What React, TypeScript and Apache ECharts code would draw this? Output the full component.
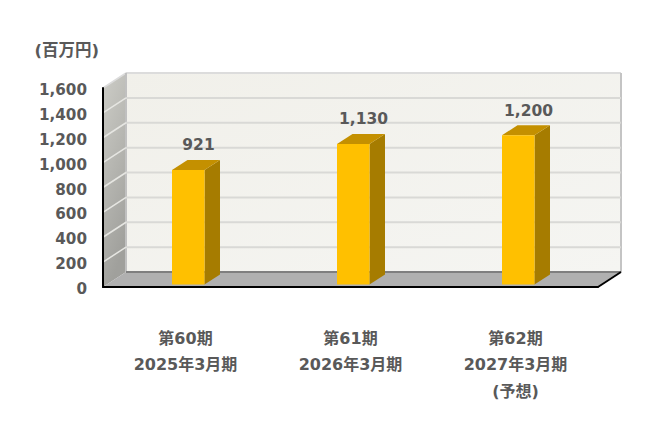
import React, { useEffect, useRef } from "react";
import * as echarts from "echarts";

const categories = ["第60期\n2025年3月期", "第61期\n2026年3月期", "第62期\n2027年3月期\n(予想)"];
const values = [921, 1130, 1200];
const gridValues = [200, 400, 600, 800, 1000, 1200, 1400];
const unitLabel = "(百万円)";

const FONT = '"DejaVu Sans", "Noto Sans CJK JP", sans-serif';
const TEXT = "#595959";
const WALL_DX = 23;
const WALL_DY = -15;
const BAR_W = 32.5;
const BAR_DX = 15.5;
const BAR_DY = -10;
const BAR_SHIFT_X = 2.75;
const BAR_SHIFT_Y = -2.5;

export default function App() {
  const ref = useRef<HTMLDivElement>(null);
  useEffect(() => {
    document.body.style.margin = "0";
    const chart = echarts.init(ref.current!, undefined, { renderer: "svg" });
    chart.setOption({
      animation: false,
      backgroundColor: "#ffffff",
      title: {
        text: unitLabel,
        left: 29.5,
        top: 37.5,
        textStyle: { fontFamily: FONT, fontSize: 16.5, fontWeight: "bold", color: TEXT },
      },
      grid: { left: 103, right: 57, top: 88, bottom: 134 },
      xAxis: {
        type: "category",
        data: categories,
        axisTick: { show: false },
        axisLine: { lineStyle: { color: "#000000", width: 2 } },
        axisLabel: {
          interval: 0,
          margin: 38,
          fontFamily: FONT,
          fontSize: 16,
          fontWeight: "bold",
          color: TEXT,
          lineHeight: 26.5,
          verticalAlign: "top",
        },
        z: 5,
      },
      yAxis: {
        type: "value",
        min: 0,
        max: 1600,
        interval: 200,
        splitLine: { show: false },
        axisTick: { show: false },
        axisLine: { show: true, lineStyle: { color: "#000000", width: 2 } },
        axisLabel: {
          margin: 16,
          verticalAlign: "top",
          lineHeight: 4,
          fontFamily: FONT,
          fontSize: 15.2,
          fontWeight: "bold",
          color: TEXT,
          formatter: (v: number) => v.toLocaleString("en-US"),
        },
        z: 5,
      },
      series: [
        {
          type: "custom",
          coordinateSystem: "cartesian2d",
          silent: true,
          z: 1,
          data: [[0, 0]],
          renderItem: (params: any, api: any) => {
            const cs = params.coordSys;
            const x0 = cs.x;
            const x1 = cs.x + cs.width;
            const yB = api.coord([0, 0])[1];
            const yT = api.coord([0, 1600])[1];
            const bx0 = x0 + WALL_DX;
            const bx1 = x1 + WALL_DX;
            const byB = yB + WALL_DY;
            const byT = yT + WALL_DY;
            return {
              type: "group",
              children: [
                {
                  type: "rect",
                  shape: { x: bx0, y: byT, width: bx1 - bx0, height: byB - byT },
                  style: {
                    fill: new echarts.graphic.LinearGradient(0, 0, 1, 1, [
                      { offset: 0, color: "#f1f0ea" },
                      { offset: 1, color: "#f5f5f2" },
                    ]),
                  },
                },
                {
                  type: "polygon",
                  shape: { points: [[x0, yT], [bx0, byT], [bx0, byB], [x0, yB]] },
                  style: {
                    fill: new echarts.graphic.LinearGradient(0, 0, 0.3, 1, [
                      { offset: 0, color: "#cdcdc7" },
                      { offset: 1, color: "#a0a09c" },
                    ]),
                  },
                },
                {
                  type: "polygon",
                  shape: { points: [[x0, yB], [bx0, byB], [bx1, byB], [x1, yB]] },
                  style: { fill: "#b0b0b0" },
                },
                { type: "line", shape: { x1: bx0, y1: byT, x2: bx1, y2: byT }, style: { stroke: "#dcdcdc", lineWidth: 2 } },
                { type: "line", shape: { x1: x0, y1: yT, x2: bx0, y2: byT }, style: { stroke: "#dcdcdc", lineWidth: 1.5 } },
                { type: "line", shape: { x1: bx1, y1: byT, x2: bx1, y2: byB }, style: { stroke: "#c4c4c4", lineWidth: 2 } },
                { type: "line", shape: { x1: bx0, y1: byT, x2: bx0, y2: byB }, style: { stroke: "#c0c0c0", lineWidth: 2 } },
                { type: "line", shape: { x1: bx0, y1: byB, x2: bx1, y2: byB }, style: { stroke: "#7f7f7f", lineWidth: 2 } },
                { type: "line", shape: { x1: x1, y1: yB, x2: bx1, y2: byB }, style: { stroke: "#000000", lineWidth: 2 } },
              ],
            };
          },
        },
        {
          type: "custom",
          coordinateSystem: "cartesian2d",
          silent: true,
          z: 2,
          data: gridValues.map((v) => [0, v]),
          renderItem: (params: any, api: any) => {
            const cs = params.coordSys;
            const y = api.coord([0, api.value(1)])[1];
            const x0 = cs.x;
            const bx0 = x0 + WALL_DX;
            const bx1 = x0 + cs.width + WALL_DX;
            return {
              type: "group",
              children: [
                { type: "line", shape: { x1: bx0, y1: y + WALL_DY, x2: bx1, y2: y + WALL_DY }, style: { stroke: "#d9d9d6", lineWidth: 2 } },
                { type: "line", shape: { x1: x0, y1: y, x2: bx0, y2: y + WALL_DY }, style: { stroke: "#e6e6e2", lineWidth: 1.5 } },
              ],
            };
          },
        },
        {
          type: "custom",
          coordinateSystem: "cartesian2d",
          silent: true,
          z: 3,
          data: values.map((v, i) => [i, v]),
          renderItem: (_params: any, api: any) => {
            const v = api.value(1);
            const [cx, yTop0] = api.coord([api.value(0), v]);
            const yBase0 = api.coord([api.value(0), 0])[1];
            const l = cx + BAR_SHIFT_X - BAR_W / 2;
            const r = l + BAR_W;
            const t = yTop0 + BAR_SHIFT_Y;
            const b = yBase0 + BAR_SHIFT_Y;
            return {
              type: "group",
              children: [
                {
                  type: "polygon",
                  shape: { points: [[r, t], [r + BAR_DX, t + BAR_DY], [r + BAR_DX, b + BAR_DY], [r, b]] },
                  style: { fill: "#a67c00" },
                },
                {
                  type: "polygon",
                  shape: { points: [[l, t], [l + BAR_DX, t + BAR_DY], [r + BAR_DX, t + BAR_DY], [r, t]] },
                  style: { fill: "#c49000" },
                },
                { type: "rect", shape: { x: l, y: t, width: BAR_W, height: b - t }, style: { fill: "#ffc000" } },
                {
                  type: "text",
                  style: {
                    x: cx + 13,
                    y: t - 24.5,
                    text: v.toLocaleString("en-US"),
                    fill: TEXT,
                    font: `bold 15.5px ${FONT}`,
                    align: "center",
                    verticalAlign: "middle",
                  },
                },
              ],
            };
          },
        },
      ],
    });
    return () => chart.dispose();
  }, []);
  return <div ref={ref} style={{ width: 655, height: 421 }} />;
}
